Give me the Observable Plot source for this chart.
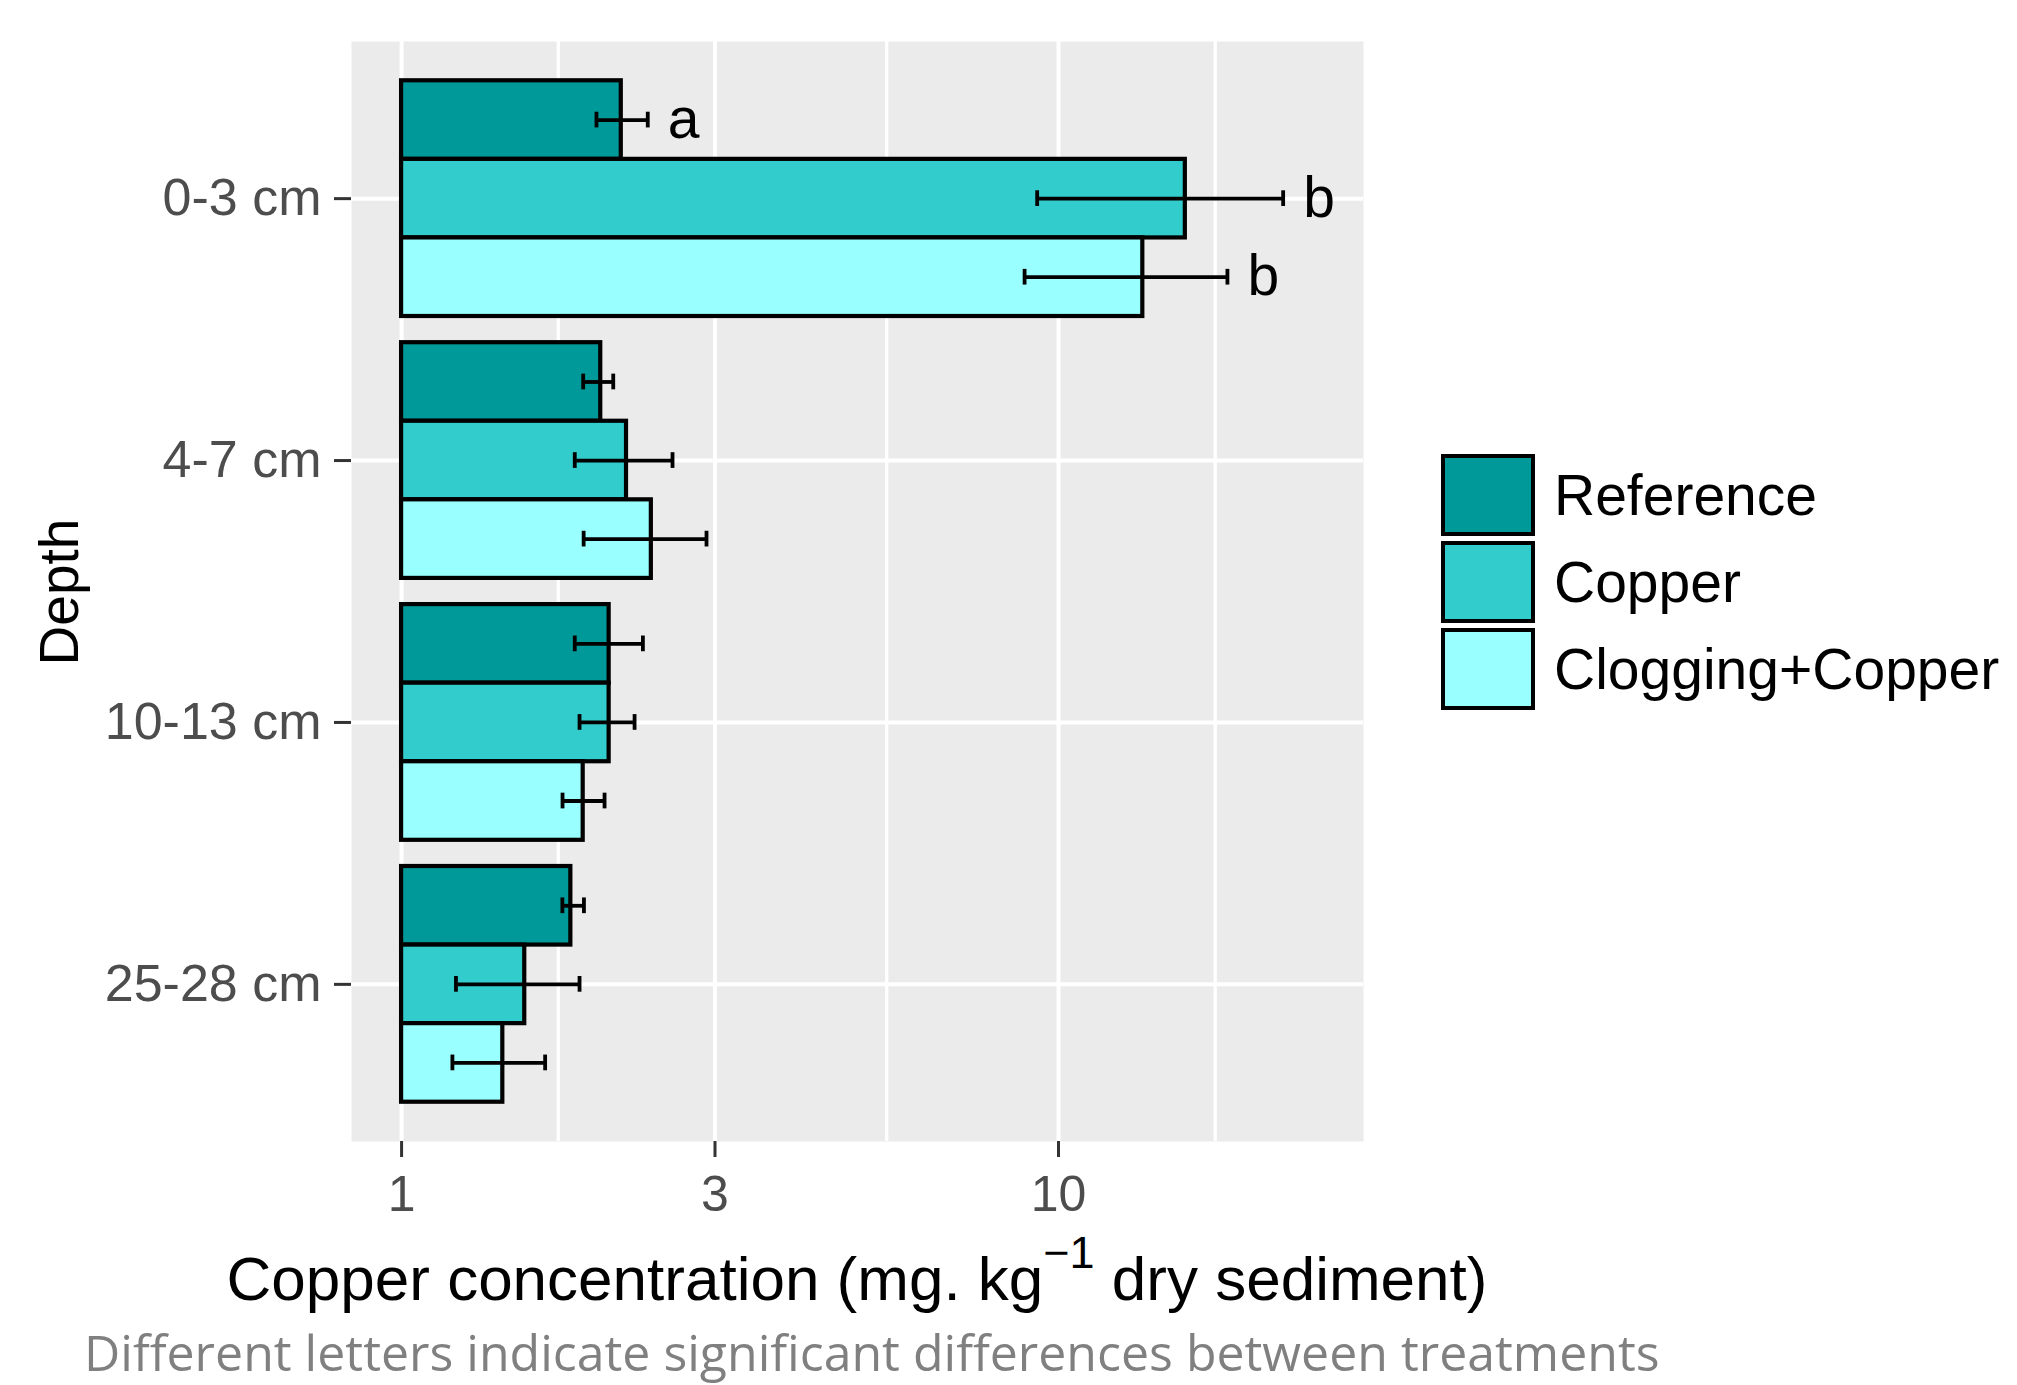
<!DOCTYPE html>
<html><head><meta charset="utf-8">
<script src="https://cdn.jsdelivr.net/npm/d3@7"></script>
<script src="https://cdn.jsdelivr.net/npm/@observablehq/plot@0.6"></script>
<style>
html,body{margin:0;padding:0;background:#fff;}
#wrap{position:relative;width:2017px;height:1385px;overflow:hidden;font-family:"Liberation Sans",Arial,sans-serif;}
#wrap svg{position:absolute;left:0;top:0;}
.key{position:absolute;left:1441px;width:94px;height:82px;box-sizing:border-box;border:4px solid #000;}
.lab{position:absolute;left:1554px;height:82px;line-height:82px;font-size:57px;color:#000;white-space:nowrap;}
#caption{position:absolute;left:84px;top:1327px;font-family:"Open Sans","Noto Sans",sans-serif;font-size:50px;line-height:1;color:#808080;white-space:nowrap;}
</style></head><body><div id="wrap"></div>
<script>
// ---- data ----
const depths = ["0-3 cm", "4-7 cm", "10-13 cm", "25-28 cm"];
const treatments = ["Reference", "Copper", "Clogging+Copper"];
const fills = ["#009999", "#33CCCC", "#99FFFF"];
const referenceMean = [2.16, 2.01, 2.07, 1.81];
const referenceLow  = [1.98, 1.89, 1.835, 1.757];
const referenceHigh = [2.37, 2.10, 2.33, 1.895];
const copperMean = [15.6, 2.20, 2.07, 1.54];
const copperLow  = [9.28, 1.835, 1.866, 1.21];
const copperHigh = [21.98, 2.585, 2.263, 1.866];
const cloggingMean = [13.44, 2.40, 1.89, 1.426];
const cloggingLow  = [8.88, 1.893, 1.758, 1.195];
const cloggingHigh = [18.08, 2.912, 2.037, 1.654];
const lettersTop = ["a", "b", "b"]; // 0-3 cm only
const xTicks = [1, 3, 10];
const xMinorBreaks = [1.732, 5.477, 17.32];
const depthTicks = [1, 2, 3, 4];
const xTitleMain = "Copper concentration (mg. kg";
const xTitleSup = "\u22121";
const xTitleEnd = " dry sediment)";
const yTitle = "Depth";
const captionText = "Different letters indicate significant differences between treatments";

// ---- table ----
const series = [
  [referenceMean, referenceLow, referenceHigh],
  [copperMean, copperLow, copperHigh],
  [cloggingMean, cloggingLow, cloggingHigh]
];
const dodge = 0.3;
const rows = [];
depths.forEach((d, i) => {
  treatments.forEach((t, j) => {
    rows.push({
      depth: d, treatment: t,
      pos: i + 1 + (j - 1) * dodge,
      mean: series[j][0][i], lo: series[j][1][i], hi: series[j][2][i],
      letter: i === 0 ? lettersTop[j] : ""
    });
  });
});
const capHalf = 0.03;

const chart = Plot.plot({
  width: 2017, height: 1320,
  marginLeft: 351, marginRight: 654, marginTop: 41, marginBottom: 179,
  style: {fontFamily: "Liberation Sans, Arial, sans-serif", background: "transparent"},
  x: {type: "log", domain: [0.839, 29.13]},
  y: {type: "linear", domain: [0.4, 4.6], reverse: true},
  color: {domain: treatments, range: fills},
  marks: [
    Plot.frame({fill: "#EBEBEB", stroke: "none"}),
    Plot.gridX(xMinorBreaks, {stroke: "white", strokeOpacity: 1, strokeWidth: 3.3}),
    Plot.gridX(xTicks, {stroke: "white", strokeOpacity: 1, strokeWidth: 4}),
    Plot.gridY(depthTicks, {stroke: "white", strokeOpacity: 1, strokeWidth: 4}),
    Plot.rect(rows, {x1: 1, x2: "mean", y1: r => r.pos - dodge / 2, y2: r => r.pos + dodge / 2,
      fill: "treatment", stroke: "black", strokeWidth: 4.2}),
    Plot.ruleY(rows, {y: "pos", x1: "lo", x2: "hi", stroke: "black", strokeWidth: 3.8}),
    Plot.ruleX(rows, {x: "lo", y1: r => r.pos - capHalf, y2: r => r.pos + capHalf, stroke: "black", strokeWidth: 3.8}),
    Plot.ruleX(rows, {x: "hi", y1: r => r.pos - capHalf, y2: r => r.pos + capHalf, stroke: "black", strokeWidth: 3.8}),
    Plot.text(rows.filter(r => r.letter), {x: "hi", y: "pos", text: "letter", dx: 20, textAnchor: "start",
      fontSize: 57, fill: "black"}),
    Plot.axisX(xTicks, {tickSize: 16, tickPadding: 18, fontSize: 50, fill: "#4D4D4D", stroke: "#333333",
      strokeWidth: 3, tickFormat: d => String(d), label: null}),
    Plot.axisY(depthTicks, {tickSize: 17, tickPadding: 13, fontSize: 52, fill: "#4D4D4D", stroke: "#333333",
      strokeWidth: 3, tickFormat: v => depths[v - 1], label: null})
  ]
});

const wrap = document.getElementById("wrap");
wrap.appendChild(chart);

// axis titles
const svg = d3.select(chart);
const xt = svg.append("text")
  .attr("x", (351 + 1363) / 2).attr("y", 1300)
  .attr("text-anchor", "middle").attr("font-size", 62).attr("fill", "black")
  .attr("font-family", "Liberation Sans, Arial, sans-serif");
xt.append("tspan").text(xTitleMain);
xt.append("tspan").attr("font-size", 45).attr("dy", -32).text(xTitleSup);
xt.append("tspan").attr("dy", 32).text(xTitleEnd);

svg.append("text")
  .attr("transform", "translate(78,592) rotate(-90)")
  .attr("text-anchor", "middle").attr("font-size", 55).attr("fill", "black")
  .attr("font-family", "Liberation Sans, Arial, sans-serif")
  .text(yTitle);

// legend
const keyTops = [454, 541, 628];
treatments.forEach((t, j) => {
  const k = document.createElement("div");
  k.className = "key"; k.style.top = keyTops[j] + "px"; k.style.background = fills[j];
  wrap.appendChild(k);
  const l = document.createElement("div");
  l.className = "lab"; l.style.top = keyTops[j] + "px"; l.textContent = t;
  wrap.appendChild(l);
});

// caption
const cap = document.createElement("div");
cap.id = "caption"; cap.textContent = captionText;
wrap.appendChild(cap);
</script>
</body></html>
